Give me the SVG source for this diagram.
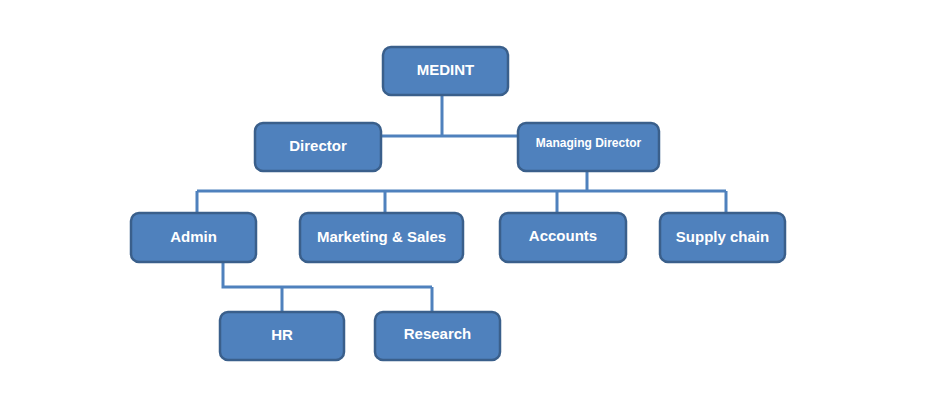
<svg xmlns="http://www.w3.org/2000/svg" width="926" height="414" viewBox="0 0 926 414">
<style>
.box{fill:#4F81BD;stroke:#3A5F8B;stroke-width:2.5}
.lbl{font-family:"Liberation Sans",Arial,sans-serif;font-weight:bold;font-size:15px;fill:#FFFFFF;text-anchor:middle;dominant-baseline:central}
.sm{font-size:12px}
.conn{fill:none;stroke:#4F81BD;stroke-width:3}
</style>
<rect width="926" height="414" fill="#FFFFFF"/>
<g id="connectors">
<path class="conn" d="M442,95 V136 M381,136 H518"/>
<path class="conn" d="M587,171 V191 M197,191 H726 M197,191 V213 M385,191 V213 M557,191 V213 M726,191 V213"/>
<path class="conn" d="M223,262 V287 H432 M282,287 V312 M432,287 V312"/>
</g>
<g id="medint"><rect class="box" x="383" y="47" width="125" height="48" rx="8"/><text class="lbl" x="445.5" y="69">MEDINT</text></g>
<g id="director"><rect class="box" x="255" y="123" width="126" height="48" rx="8"/><text class="lbl" x="318" y="145">Director</text></g>
<g id="managing-director"><rect class="box" x="518" y="123" width="141" height="48" rx="8"/><text class="lbl sm" x="588.5" y="143">Managing Director</text></g>
<g id="admin"><rect class="box" x="131" y="213" width="125" height="49" rx="8"/><text class="lbl" x="193.5" y="236">Admin</text></g>
<g id="marketing-sales"><rect class="box" x="300" y="213" width="163" height="49" rx="8"/><text class="lbl" x="381.5" y="236">Marketing &amp; Sales</text></g>
<g id="accounts"><rect class="box" x="500" y="213" width="126" height="49" rx="8"/><text class="lbl" x="563" y="235">Accounts</text></g>
<g id="supply-chain"><rect class="box" x="660" y="213" width="125" height="49" rx="8"/><text class="lbl" x="722.5" y="236">Supply chain</text></g>
<g id="hr"><rect class="box" x="220" y="312" width="124" height="48" rx="8"/><text class="lbl" x="282" y="334">HR</text></g>
<g id="research"><rect class="box" x="375" y="312" width="125" height="48" rx="8"/><text class="lbl" x="437.5" y="333">Research</text></g>
</svg>
